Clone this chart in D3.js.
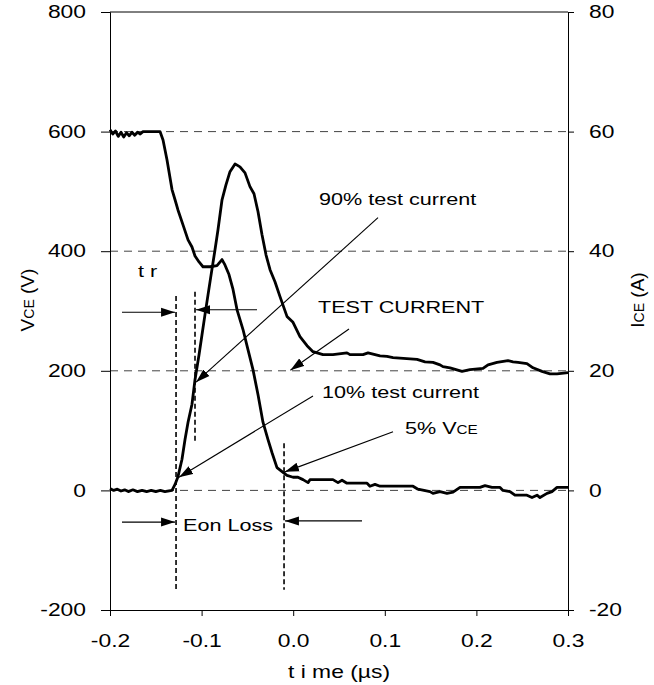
<!DOCTYPE html>
<html>
<head>
<meta charset="utf-8">
<script src="https://cdn.jsdelivr.net/npm/d3@7"></script>
<style>
  body { margin: 0; background: #fff; }
  text { font-family: "Liberation Sans", Arial, sans-serif; fill: #000; }
</style>
</head>
<body>
<svg id="chart" width="654" height="685"></svg>
<script>
// ticks
const xTicks = [-0.2, -0.1, 0.0, 0.1, 0.2, 0.3];
const vTicks = [-200, 0, 200, 400, 600, 800];
const iTicks = [-20, 0, 20, 40, 60, 80];
const gridLevels = [0, 200, 400, 600];

// VCE waveform [time us, volts]
const vce = [
  [-0.200, 603], [-0.197, 596], [-0.194, 601], [-0.191, 592], [-0.188, 599], [-0.185, 591],
  [-0.182, 598], [-0.179, 593], [-0.176, 599], [-0.173, 594], [-0.170, 599], [-0.167, 596],
  [-0.164, 600], [-0.1454, 600], [-0.1421, 586], [-0.1378, 553], [-0.1323, 503], [-0.1290, 486],
  [-0.1258, 469], [-0.1203, 444], [-0.1148, 419], [-0.1105, 407], [-0.1072, 392], [-0.1028, 382],
  [-0.0985, 374], [-0.0908, 374], [-0.0832, 376], [-0.0777, 386], [-0.0745, 377], [-0.0701, 361],
  [-0.0657, 336], [-0.0613, 302], [-0.0548, 269], [-0.0493, 235], [-0.0439, 202], [-0.0384, 160],
  [-0.0330, 114], [-0.0275, 85], [-0.0231, 63], [-0.0177, 38], [-0.0111, 30], [-0.0068, 25],
  [-0.0002, 22], [0.0052, 22], [0.0107, 18], [0.0162, 13], [0.0183, 18], [0.0293, 18],
  [0.0434, 18], [0.0489, 13], [0.0533, 17], [0.0587, 12], [0.0806, 12], [0.0838, 7],
  [0.0893, 10], [0.0948, 7], [0.1308, 7], [0.1362, 2], [0.1493, -2], [0.1526, -5],
  [0.1603, -2], [0.1679, -5], [0.1745, -3], [0.1821, 5], [0.2039, 5], [0.2094, 8],
  [0.2170, 5], [0.2258, 5], [0.2290, 0], [0.2367, -2], [0.2421, -8], [0.2552, -8],
  [0.2607, -12], [0.2662, -8], [0.2694, -12], [0.2771, -5], [0.2825, -2], [0.2880, 5],
  [0.3000, 5]
];

// ICE waveform [time us, amps]
const ice = [
  [-0.200, 0.3], [-0.196, 0.0], [-0.192, 0.2], [-0.188, -0.1], [-0.184, 0.1], [-0.180, -0.2],
  [-0.175, 0.1], [-0.170, -0.2], [-0.165, 0.0], [-0.160, -0.2], [-0.155, 0.0], [-0.150, -0.2],
  [-0.145, 0.0], [-0.140, -0.2], [-0.1323, 0.0],
  [-0.1290, 1.0], [-0.1258, 2.3], [-0.1214, 5.2], [-0.1181, 8.5], [-0.1148, 11.4], [-0.1105, 14.4],
  [-0.1072, 18.5], [-0.1028, 22.7], [-0.0996, 26.0], [-0.0963, 29.4], [-0.0930, 32.7], [-0.0897, 36.0],
  [-0.0854, 40.2], [-0.0821, 43.6], [-0.0777, 48.6], [-0.0734, 51.1], [-0.0690, 53.3], [-0.0635, 54.6],
  [-0.0581, 54.1], [-0.0526, 53.1], [-0.0472, 50.8], [-0.0428, 49.6], [-0.0384, 46.6], [-0.0341, 42.8],
  [-0.0297, 39.4], [-0.0253, 36.9], [-0.0199, 34.9], [-0.0144, 32.4], [-0.0068, 29.1], [-0.0002, 28.1],
  [0.0074, 25.7], [0.0151, 24.2], [0.0216, 23.2], [0.0325, 22.7], [0.0434, 22.7], [0.0587, 23.0],
  [0.0620, 22.7], [0.0762, 22.7], [0.0817, 23.0], [0.0948, 22.5], [0.1024, 22.4], [0.1090, 22.2],
  [0.1352, 21.9], [0.1439, 21.5], [0.1526, 21.4], [0.1603, 21.0], [0.1635, 20.7], [0.1712, 20.5],
  [0.1843, 19.9], [0.1930, 20.2], [0.2072, 20.4], [0.2127, 21.0], [0.2225, 21.4], [0.2345, 21.7],
  [0.2400, 21.5], [0.2454, 21.4], [0.2552, 21.2], [0.2618, 20.5], [0.2716, 19.9], [0.2803, 19.5],
  [0.2880, 19.5], [0.3000, 19.7]
];

// annotations, in (time, volts) units
const markerLines = [[-0.1279, 325, -166], [-0.1072, 332, 83], [-0.0100, 79, -166]];
const arrows = [
  [-0.1869, 298, -0.1290, 298],
  [-0.0395, 302, -0.1061, 302],
  [0.0926, 456, -0.1061, 181],
  [0.0609, 270, -0.0031, 201],
  [0.0216, 158, -0.1247, 22],
  [0.1090, 98, -0.0090, 31],
  [-0.1869, -53, -0.1290, -53],
  [0.0751, -51, -0.0090, -51]
];
const notes = [
  ["t r", -0.1694, 357],
  ["90% test current", 0.0282, 477],
  ["TEST CURRENT", 0.0271, 297],
  ["10% test current", 0.0314, 155],
  ["Eon Loss", -0.1203, -68]
];

const SX = 1.27; // glyphs in the picture are drawn wide
const svg = d3.select("#chart");
const m = { left: 110, right: 568, top: 12, bottom: 610 };

const x = d3.scaleLinear().domain([-0.2, 0.3]).range([m.left, m.right]);
const yV = d3.scaleLinear().domain([-200, 800]).range([m.bottom, m.top]);
const yI = d3.scaleLinear().domain([-20, 80]).range([m.bottom, m.top]);

function widen(sel) {
  sel.each(function() {
    const t = d3.select(this);
    const ax = +t.attr("x") || 0;
    t.attr("transform", `translate(${ax},0) scale(${SX},1) translate(${-ax},0)`);
  });
}

// grid
svg.append("g").selectAll("line")
  .data(gridLevels)
  .join("line")
  .attr("x1", m.left).attr("x2", m.right)
  .attr("y1", d => yV(d)).attr("y2", d => yV(d))
  .attr("stroke", "#444").attr("stroke-width", 1)
  .attr("stroke-dasharray", "8,6");

// top border
svg.append("line")
  .attr("x1", m.left).attr("x2", m.right)
  .attr("y1", m.top).attr("y2", m.top)
  .attr("stroke", "#000");

// axes
const gx = svg.append("g")
  .attr("transform", `translate(0,${m.bottom})`)
  .call(d3.axisBottom(x).tickValues(xTicks).tickFormat(d3.format(".1f")).tickSizeOuter(0).tickSize(6).tickPadding(18));
const gl = svg.append("g")
  .attr("transform", `translate(${m.left},0)`)
  .call(d3.axisLeft(yV).tickValues(vTicks).tickSizeOuter(0).tickSize(9).tickPadding(15));
const gr = svg.append("g")
  .attr("transform", `translate(${m.right},0)`)
  .call(d3.axisRight(yI).tickValues(iTicks).tickSizeOuter(0).tickSize(6).tickPadding(15));

[gx, gl, gr].forEach(g => {
  g.select(".domain").attr("stroke", "#000");
  g.selectAll(".tick line").attr("stroke", "#000");
  g.selectAll(".tick text").style("font-size", "18px").attr("font-family", null);
  g.attr("font-family", null).attr("font-size", null);
  widen(g.selectAll(".tick text"));
});
gx.selectAll(".tick text").text(d => d3.format(".1f")(d).replace("−", "-"));
gl.selectAll(".tick text").text(d => String(d));
gr.selectAll(".tick text").text(d => String(d));

// curves
const lineV = d3.line().x(d => x(d[0])).y(d => yV(d[1]));
const lineI = d3.line().x(d => x(d[0])).y(d => yI(d[1]));
svg.append("path").datum(vce).attr("d", lineV)
  .attr("fill", "none").attr("stroke", "#000").attr("stroke-width", 2.8).attr("stroke-linejoin", "round");
svg.append("path").datum(ice).attr("d", lineI)
  .attr("fill", "none").attr("stroke", "#000").attr("stroke-width", 2.8).attr("stroke-linejoin", "round");

// vertical dashed markers
svg.append("g").selectAll("line")
  .data(markerLines)
  .join("line")
  .attr("x1", d => x(d[0])).attr("x2", d => x(d[0]))
  .attr("y1", d => yV(d[1])).attr("y2", d => yV(d[2]))
  .attr("stroke", "#000").attr("stroke-width", 1.6)
  .attr("stroke-dasharray", "5,3");

// arrows
svg.append("defs").append("marker")
  .attr("id", "head")
  .attr("viewBox", "-14 -5 14 10")
  .attr("refX", 0).attr("refY", 0)
  .attr("markerWidth", 14).attr("markerHeight", 10)
  .attr("markerUnits", "userSpaceOnUse")
  .attr("orient", "auto")
  .append("path").attr("d", "M0,0L-14,-4.5L-14,4.5Z").attr("fill", "#000");

svg.append("g").selectAll("line")
  .data(arrows)
  .join("line")
  .attr("x1", d => x(d[0])).attr("y1", d => yV(d[1]))
  .attr("x2", d => x(d[2])).attr("y2", d => yV(d[3]))
  .attr("stroke", "#000").attr("stroke-width", 1.1)
  .attr("marker-end", "url(#head)");

// annotation text
const nt = svg.append("g").selectAll("text")
  .data(notes)
  .join("text")
  .attr("x", d => x(d[1])).attr("y", d => yV(d[2]))
  .style("font-size", "17px")
  .text(d => d[0]);
widen(nt);

const vnote = svg.append("text")
  .attr("x", x(0.1221)).attr("y", yV(94))
  .style("font-size", "17px");
vnote.append("tspan").text("5% V");
vnote.append("tspan").style("font-size", "12px").text("CE");
widen(vnote);

// axis titles
svg.append("text")
  .attr("x", x(0.05)).attr("y", 678)
  .attr("text-anchor", "middle")
  .style("font-size", "18px")
  .call(widen)
  .text("t i me (µs)");

const yt = svg.append("text")
  .attr("transform", "translate(34,300) rotate(-90)")
  .attr("text-anchor", "middle")
  .style("font-size", "19px");
yt.append("tspan").text("V");
yt.append("tspan").style("font-size", "14px").text("CE");
yt.append("tspan").text(" (V)");

const it = svg.append("text")
  .attr("transform", "translate(644,300) rotate(-90)")
  .attr("text-anchor", "middle")
  .style("font-size", "19px");
it.append("tspan").text("I");
it.append("tspan").style("font-size", "14px").text("CE");
it.append("tspan").text(" (A)");
</script>
</body>
</html>
